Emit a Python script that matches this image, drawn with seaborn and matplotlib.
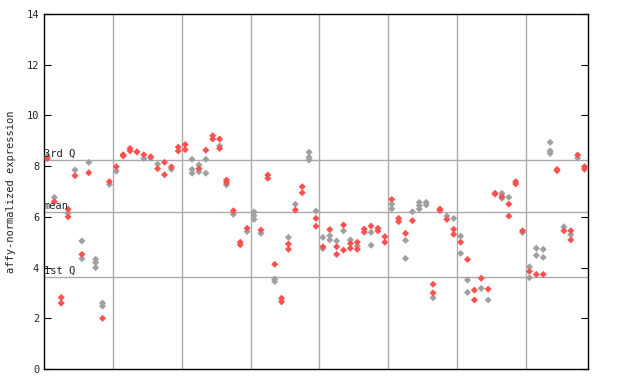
import pandas as pd
import matplotlib
matplotlib.use("Agg")
import matplotlib.pyplot as plt
import seaborn as sns

# samples 0..78, grouped by 10 (vertical separators between groups)
red_sample = [0, 1, 2, 2, 3, 3, 4, 5, 6, 8, 9, 10, 11, 11, 12, 12, 13, 14, 15, 16,
              17, 17, 18, 19, 19, 20, 20, 22, 23, 24, 24, 25, 25, 26, 26, 27, 28, 28, 29, 31,
              32, 32, 33, 34, 34, 35, 35, 36, 37, 37, 39, 39, 40, 41, 42, 42, 43, 43, 44, 44,
              45, 45, 46, 46, 47, 48, 48, 49, 49, 50, 51, 51, 52, 53, 56, 56, 57, 57, 58, 59,
              59, 60, 61, 62, 62, 63, 64, 65, 65, 66, 67, 67, 68, 68, 69, 70, 71, 72, 74, 74,
              75, 76, 76, 77, 78, 78]
red_value = [8.3, 6.6, 2.82, 2.6, 6.3, 6.0, 7.62, 4.52, 7.74, 2.0, 7.39, 7.98, 8.45, 8.4, 8.7, 8.6, 8.57, 8.45, 8.37, 7.9,
             8.15, 7.66, 7.97, 8.75, 8.6, 8.85, 8.65, 7.9, 8.63, 9.2, 9.07, 9.07, 8.7, 7.45, 7.35, 6.24, 5.0, 4.9, 5.55, 5.48,
             7.65, 7.52, 4.13, 2.79, 2.65, 4.93, 4.72, 6.27, 7.19, 6.95, 5.94, 5.63, 4.82, 5.5, 4.82, 4.52, 5.68, 4.69, 4.95, 4.76,
             5.0, 4.72, 5.52, 5.4, 5.64, 5.55, 5.45, 5.22, 5.0, 6.69, 5.94, 5.81, 5.35, 5.85, 3.34, 3.0, 6.31, 6.25, 5.9, 5.51,
             5.31, 5.0, 4.32, 3.11, 2.72, 3.58, 3.15, 6.93, 6.9, 6.8, 6.5, 6.03, 7.39, 7.3, 5.45, 3.85, 3.73, 3.73, 7.87, 7.82,
             5.45, 5.45, 5.09, 8.44, 7.98, 7.88]

grey_sample = [0, 1, 3, 4, 5, 5, 6, 7, 7, 7, 8, 8, 9, 10, 13, 14, 15, 16, 18, 21,
               21, 21, 22, 22, 23, 23, 25, 26, 27, 29, 30, 30, 30, 31, 33, 33, 35, 36, 38, 38,
               38, 39, 40, 40, 41, 41, 42, 43, 44, 45, 47, 47, 50, 50, 52, 52, 53, 54, 54, 54,
               55, 55, 56, 58, 59, 60, 60, 61, 61, 63, 64, 66, 66, 67, 69, 70, 70, 71, 71, 72,
               72, 73, 73, 73, 75, 76, 77]
grey_value = [8.4, 6.77, 6.15, 7.85, 5.05, 4.35, 8.15, 4.33, 4.2, 4.0, 2.6, 2.48, 7.28, 7.8, 8.55, 8.3, 8.32, 8.08, 7.88, 8.27,
              7.87, 7.72, 8.05, 7.78, 8.27, 7.72, 8.8, 7.26, 6.1, 5.42, 6.2, 6.05, 5.9, 5.35, 3.55, 3.45, 5.19, 6.5, 8.55, 8.35,
              8.24, 6.23, 5.19, 4.75, 5.26, 5.09, 5.05, 5.45, 5.09, 4.85, 5.39, 4.88, 6.5, 6.32, 5.07, 4.36, 6.2, 6.57, 6.44, 6.31,
              6.57, 6.47, 2.81, 6.03, 5.94, 5.24, 4.56, 3.51, 3.02, 3.18, 2.72, 6.93, 6.73, 6.77, 5.38, 4.03, 3.6, 4.76, 4.48, 4.72,
              4.4, 8.94, 8.6, 8.5, 5.61, 5.3, 8.32]

n_samples = 79
group_size = 10
q1, mean_val, q3 = 3.62, 6.19, 8.24
yticks = [0, 2, 4, 6, 8, 10, 12, 14]

df = pd.DataFrame({
    "sample": grey_sample + red_sample,
    "value": grey_value + red_value,
    "probe": ["grey"] * len(grey_sample) + ["red"] * len(red_sample),
})

sns.set_style("white")
plt.rcParams['font.family'] = ['DejaVu Sans Mono']

fig = plt.figure(figsize=(6.4, 3.84), dpi=100)
ax = fig.add_axes([44 / 640, 1 - 369 / 384, 544 / 640, 355 / 384])

# group separators and quartile lines
for b in range(group_size, n_samples, group_size):
    ax.axvline(b - 0.5, color="#aaaaaa", lw=1, zorder=0)
for yv in (q1, mean_val, q3):
    ax.axhline(yv, color="#aaaaaa", lw=1, zorder=0)

sns.scatterplot(data=df, x="sample", y="value", hue="probe",
                palette={"grey": "#a0a0a0", "red": "#ff5050"},
                marker="D", s=13, linewidth=0, legend=False, ax=ax, zorder=3)

ax.text(-0.5, q3 + 0.05, "3rd Q", fontsize=7.5, ha="left", va="bottom")
ax.text(-0.5, mean_val + 0.05, "mean", fontsize=7.5, ha="left", va="bottom")
ax.text(-0.5, q1 + 0.05, "1st Q", fontsize=7.5, ha="left", va="bottom")

ax.set_xlim(-0.5, n_samples - 0.5)
ax.set_ylim(0, 14)
ax.set_yticks(yticks)
ax.set_xticks([])
ax.set_xlabel("")
ax.set_ylabel("affy-normalized expression", fontsize=7.5, labelpad=8)
ax.tick_params(axis="y", direction="in", length=5, labelsize=7.5, right=True, left=True, color="black")
for sp in ax.spines.values():
    sp.set_color("black")
    sp.set_linewidth(1)

fig.savefig("out.png", dpi=100)
